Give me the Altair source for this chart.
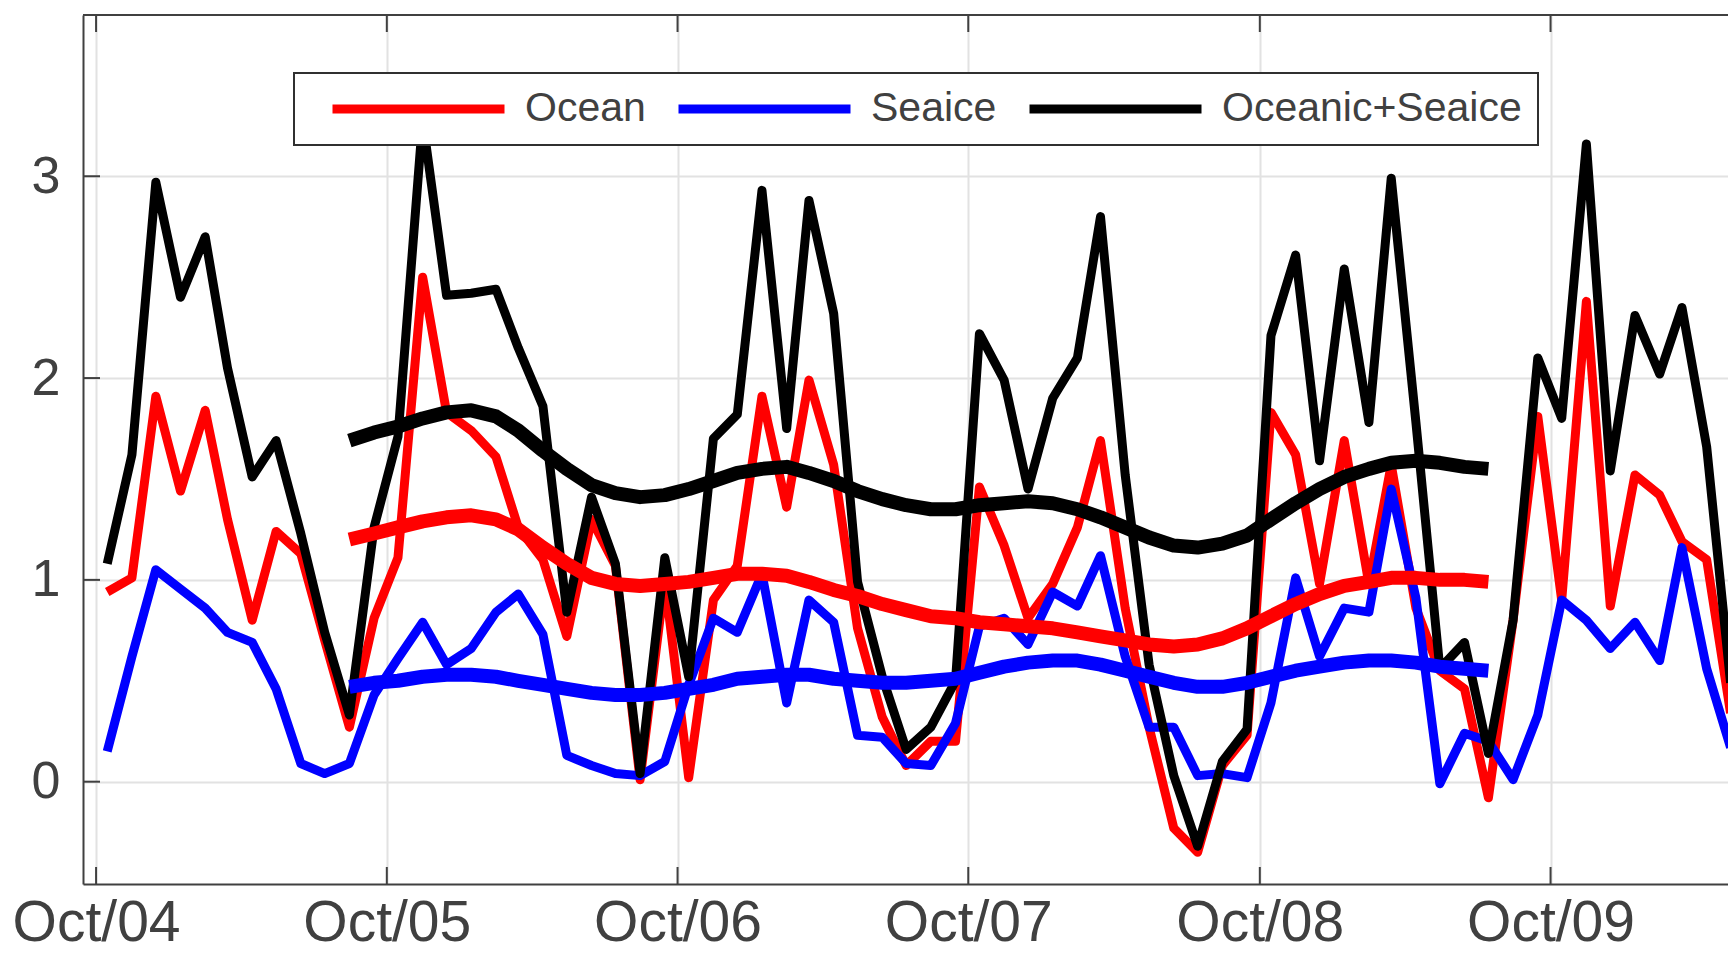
import altair as alt
import pandas as pd

# ---- data (monthly values, Oct 2004 .. May 2010) ----
ocean = [0.94, 1.01, 1.91, 1.44, 1.84, 1.30, 0.80, 1.24, 1.13, 0.70,
         0.27, 0.81, 1.11, 2.50, 1.83, 1.74, 1.61, 1.26, 1.10, 0.72,
         1.30, 1.07, 0.01, 1.00, 0.02, 0.90, 1.07, 1.91, 1.36, 1.99,
         1.57, 0.76, 0.32, 0.08, 0.20, 0.20, 1.46, 1.17, 0.81, 0.98,
         1.26, 1.69, 0.86, 0.27, -0.23, -0.35, 0.08, 0.23, 1.83, 1.62,
         0.98, 1.69, 0.98, 1.57, 0.86, 0.55, 0.46, -0.08, 0.80, 1.81,
         0.90, 2.38, 0.87, 1.52, 1.42, 1.19, 1.10, 0.34]
seaice = [0.15, 0.62, 1.05, 0.955, 0.86, 0.74, 0.69, 0.46, 0.09, 0.04,
          0.09, 0.43, 0.61, 0.79, 0.58, 0.66, 0.84, 0.93, 0.73, 0.13,
          0.08, 0.04, 0.03, 0.10, 0.48, 0.81, 0.74, 1.03, 0.39, 0.90,
          0.79, 0.23, 0.22, 0.09, 0.08, 0.29, 0.77, 0.81, 0.68, 0.94,
          0.87, 1.12, 0.62, 0.27, 0.27, 0.03, 0.04, 0.02, 0.39, 1.01,
          0.62, 0.86, 0.84, 1.45, 0.91, -0.01, 0.24, 0.20, 0.01, 0.33,
          0.90, 0.80, 0.66, 0.79, 0.60, 1.16, 0.56, 0.17]
total = [1.08, 1.62, 2.97, 2.40, 2.70, 2.05, 1.51, 1.69, 1.23, 0.74,
         0.33, 1.26, 1.71, 3.28, 2.41, 2.42, 2.44, 2.15, 1.86, 0.84,
         1.41, 1.08, 0.04, 1.11, 0.52, 1.70, 1.82, 2.93, 1.75, 2.88,
         2.32, 0.99, 0.52, 0.16, 0.27, 0.50, 2.22, 1.99, 1.45, 1.90,
         2.10, 2.80, 1.52, 0.58, 0.03, -0.32, 0.10, 0.26, 2.21, 2.61,
         1.59, 2.54, 1.78, 2.99, 1.78, 0.56, 0.69, 0.14, 0.80, 2.10,
         1.80, 3.16, 1.54, 2.31, 2.02, 2.35, 1.66, 0.49]

# smoothed curves (Aug 2005 .. Jul 2009)
ocean_smooth = [1.20, 1.23, 1.26, 1.29, 1.31, 1.32, 1.30, 1.25, 1.16, 1.08,
                1.01, 0.98, 0.97, 0.98, 0.99, 1.01, 1.03, 1.03, 1.02, 0.99,
                0.95, 0.92, 0.88, 0.85, 0.82, 0.81, 0.79, 0.78, 0.77, 0.76,
                0.74, 0.72, 0.70, 0.68, 0.67, 0.68, 0.71, 0.76, 0.82, 0.88,
                0.93, 0.97, 0.99, 1.01, 1.01, 1.00, 1.00, 0.99]
seaice_smooth = [0.47, 0.49, 0.50, 0.52, 0.53, 0.53, 0.52, 0.50, 0.48, 0.46,
                 0.44, 0.43, 0.43, 0.44, 0.46, 0.48, 0.51, 0.52, 0.53, 0.53,
                 0.51, 0.50, 0.49, 0.49, 0.50, 0.51, 0.54, 0.57, 0.59, 0.60,
                 0.60, 0.58, 0.55, 0.52, 0.49, 0.47, 0.47, 0.49, 0.52, 0.55,
                 0.57, 0.59, 0.60, 0.60, 0.59, 0.57, 0.56, 0.55]
total_smooth = [1.69, 1.73, 1.76, 1.80, 1.83, 1.84, 1.81, 1.74, 1.64, 1.55,
                1.47, 1.43, 1.41, 1.42, 1.45, 1.49, 1.53, 1.55, 1.56, 1.53,
                1.49, 1.44, 1.40, 1.37, 1.35, 1.35, 1.37, 1.38, 1.39, 1.38,
                1.35, 1.31, 1.26, 1.21, 1.17, 1.16, 1.18, 1.22, 1.30, 1.38,
                1.45, 1.51, 1.55, 1.58, 1.59, 1.58, 1.56, 1.55]

series_names = ["Ocean", "Seaice", "Oceanic+Seaice"]
series_colors = ["#ff0000", "#0000ff", "#000000"]
tick_dates = ["2004-10-01T00:00:00", "2005-10-01T00:00:00", "2006-10-01T00:00:00",
              "2007-10-01T00:00:00", "2008-10-01T00:00:00", "2009-10-01T00:00:00"]
y_ticks = [0, 1, 2, 3]

months = [d.strftime("%Y-%m-15T00:00:00")
          for d in pd.date_range("2004-10-01", periods=len(ocean), freq="MS")]
smooth_months = months[10:10 + len(ocean_smooth)]

thin = pd.DataFrame({
    "date": months * 3,
    "value": ocean + seaice + total,
    "series": [series_names[0]] * len(ocean) + [series_names[1]] * len(seaice)
              + [series_names[2]] * len(total),
})
thick = pd.DataFrame({
    "date": smooth_months * 3,
    "value": ocean_smooth + seaice_smooth + total_smooth,
    "series": [series_names[0]] * len(ocean_smooth) + [series_names[1]] * len(seaice_smooth)
              + [series_names[2]] * len(total_smooth),
})
xt = pd.DataFrame({"date": tick_dates})
yt = pd.DataFrame({"value": y_ticks})

W, H = 1645, 869
FONT = "Liberation Sans"
AX = "#404040"

x_scale = alt.Scale(domain=["2004-09-14T14:00:00", "2010-05-11T19:00:00"], nice=False)
y_scale = alt.Scale(domain=[-0.507, 3.799], nice=False, zero=False)

x_axis = alt.Axis(values=tick_dates, format="%b/%y", title=None, labelFlush=False,
                  labelFontSize=57, labelFont=FONT, labelColor=AX, labelPadding=11,
                  tickSize=0, grid=True, gridColor="#e2e2e2", gridWidth=2,
                  domainColor=AX, domainWidth=2, labelOverlap=False)
y_axis = alt.Axis(values=y_ticks, title=None, labelFontSize=52, labelFont=FONT,
                  labelColor=AX, labelPadding=23, tickSize=0, grid=True,
                  gridColor="#e2e2e2", gridWidth=2, domainColor=AX, domainWidth=2)

legend = alt.Legend(title=None, orient="none", legendX=211, legendY=58,
                    direction="horizontal", symbolType="stroke", symbolSize=29584,
                    symbolStrokeWidth=9, clipHeight=40, labelFontSize=41,
                    labelFont=FONT, labelColor=AX, labelOffset=16,
                    columnPadding=10, padding=16, symbolOffset=18,
                    strokeColor="#303030", fillColor="white", labelLimit=600,
                    zindex=1)
color = alt.Color("series:N", scale=alt.Scale(domain=series_names, range=series_colors),
                  legend=legend)

x_enc = alt.X("date:T", scale=x_scale, axis=x_axis)
y_enc = alt.Y("value:Q", scale=y_scale, axis=y_axis)

thin_lines = alt.Chart(thin).mark_line(strokeWidth=9, strokeJoin="round", clip=True).encode(
    x=x_enc, y=y_enc, color=color)
thick_lines = alt.Chart(thick).mark_line(strokeWidth=14, strokeJoin="round", clip=True).encode(
    x=x_enc, y=y_enc, color=color)

tick_bottom = alt.Chart(xt).mark_rule(color=AX, strokeWidth=2).encode(
    x=x_enc, y=alt.value(H - 17), y2=alt.value(H))
tick_top = alt.Chart(xt).mark_rule(color=AX, strokeWidth=2).encode(
    x=x_enc, y=alt.value(0), y2=alt.value(17))
tick_left = alt.Chart(yt).mark_rule(color=AX, strokeWidth=2).encode(
    y=y_enc, x=alt.value(0), x2=alt.value(17))
top_border = alt.Chart(xt).mark_rule(color=AX, strokeWidth=2).encode(
    x=alt.value(0), x2=alt.value(W), y=alt.value(0))

chart = alt.layer(
    thin_lines, thick_lines, tick_bottom, tick_top, tick_left, top_border
).properties(
    width=W, height=H,
    autosize=alt.AutoSizeParams(type="none"),
    padding={"left": 75, "top": 7, "right": 0, "bottom": 61},
).configure_view(stroke=None).configure_legend(strokeWidth=2)

chart.save("out.html", embed_options={"renderer": "svg", "actions": False})
